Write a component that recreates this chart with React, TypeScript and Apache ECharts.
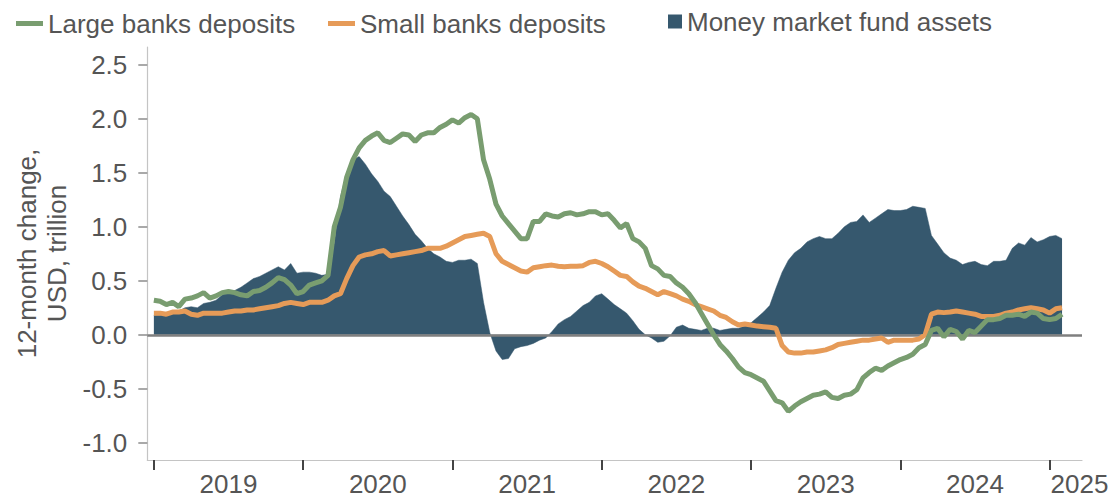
import React, { useEffect, useRef } from "react";
import * as echarts from "echarts";

// Semi-monthly observations starting January 2019 (x in decimal years)
const START_YEAR = 2019;
const STEP = 1 / 24;

const largeBanks = [
  0.32, 0.31, 0.28, 0.30, 0.26, 0.33, 0.34, 0.36, 0.39, 0.34,
  0.36, 0.39, 0.40, 0.39, 0.37, 0.36, 0.40, 0.41, 0.44, 0.48,
  0.53, 0.51, 0.46, 0.38, 0.40, 0.46, 0.48, 0.50, 0.55, 1.00,
  1.18, 1.46, 1.62, 1.73, 1.80, 1.84, 1.87, 1.80, 1.78, 1.82,
  1.86, 1.85, 1.79, 1.85, 1.87, 1.87, 1.92, 1.95, 1.99, 1.96,
  2.01, 2.04, 2.00, 1.62, 1.44, 1.21, 1.10, 1.03, 0.96, 0.89,
  0.89, 1.05, 1.05, 1.12, 1.10, 1.09, 1.12, 1.13, 1.11, 1.12,
  1.14, 1.14, 1.11, 1.12, 1.06, 0.99, 1.03, 0.89, 0.86, 0.80,
  0.64, 0.61, 0.55, 0.54, 0.48, 0.44, 0.38, 0.30, 0.20, 0.10,
  0.00, -0.09, -0.15, -0.22, -0.30, -0.35, -0.37, -0.40, -0.43, -0.52,
  -0.61, -0.63, -0.71, -0.66, -0.62, -0.59, -0.56, -0.55, -0.53, -0.58,
  -0.59, -0.56, -0.55, -0.51, -0.40, -0.35, -0.31, -0.33, -0.29, -0.26,
  -0.23, -0.21, -0.18, -0.12, -0.09, 0.04, 0.06, -0.02, 0.05, 0.03,
  -0.04, 0.04, 0.02, 0.08, 0.14, 0.14, 0.15, 0.18, 0.18, 0.19,
  0.17, 0.21, 0.20, 0.15, 0.14, 0.15, 0.19,
];

const smallBanks = [
  0.20, 0.20, 0.19, 0.21, 0.21, 0.22, 0.19, 0.18, 0.20, 0.20,
  0.20, 0.20, 0.21, 0.22, 0.22, 0.23, 0.23, 0.24, 0.25, 0.26,
  0.27, 0.29, 0.30, 0.29, 0.28, 0.30, 0.30, 0.30, 0.32, 0.36,
  0.38, 0.52, 0.64, 0.72, 0.74, 0.75, 0.77, 0.78, 0.73, 0.74,
  0.75, 0.76, 0.77, 0.78, 0.80, 0.80, 0.80, 0.82, 0.85, 0.88,
  0.91, 0.92, 0.93, 0.94, 0.91, 0.75, 0.68, 0.65, 0.62, 0.59,
  0.58, 0.62, 0.63, 0.64, 0.645, 0.635, 0.63, 0.635, 0.635, 0.64,
  0.67, 0.68, 0.66, 0.63, 0.59, 0.55, 0.54, 0.49, 0.45, 0.43,
  0.40, 0.37, 0.40, 0.38, 0.36, 0.33, 0.31, 0.28, 0.26, 0.24,
  0.22, 0.18, 0.16, 0.12, 0.09, 0.10, 0.09, 0.08, 0.075, 0.07,
  0.06, -0.10, -0.16, -0.17, -0.17, -0.16, -0.16, -0.15, -0.14, -0.12,
  -0.09, -0.08, -0.07, -0.06, -0.05, -0.05, -0.04, -0.03, -0.07, -0.05,
  -0.05, -0.05, -0.05, -0.04, 0.00, 0.19, 0.21, 0.205, 0.21, 0.22,
  0.21, 0.20, 0.19, 0.17, 0.17, 0.17, 0.18, 0.20, 0.21, 0.23,
  0.24, 0.25, 0.24, 0.23, 0.20, 0.24, 0.25,
];

const mmfAssets = [
  0.18, 0.18, 0.19, 0.20, 0.22, 0.25, 0.26, 0.25, 0.29, 0.30,
  0.32, 0.37, 0.40, 0.41, 0.44, 0.48, 0.52, 0.54, 0.57, 0.60,
  0.63, 0.60, 0.66, 0.57, 0.58, 0.58, 0.57, 0.55, 0.56, 0.85,
  1.28, 1.50, 1.62, 1.65, 1.58, 1.49, 1.42, 1.33, 1.28, 1.19,
  1.10, 1.02, 0.93, 0.87, 0.80, 0.75, 0.72, 0.68, 0.67, 0.69,
  0.69, 0.70, 0.66, 0.30, 0.02, -0.15, -0.23, -0.22, -0.13, -0.11,
  -0.10, -0.08, -0.05, -0.03, 0.03, 0.10, 0.14, 0.17, 0.22, 0.27,
  0.30, 0.36, 0.38, 0.33, 0.28, 0.24, 0.20, 0.13, 0.05, 0.00,
  -0.03, -0.07, -0.06, -0.01, 0.07, 0.09, 0.06, 0.05, 0.04, 0.06,
  0.06, 0.04, 0.05, 0.06, 0.06, 0.08, 0.11, 0.16, 0.21, 0.27,
  0.43, 0.58, 0.69, 0.76, 0.80, 0.86, 0.89, 0.91, 0.89, 0.89,
  0.94, 1.00, 1.04, 1.05, 1.11, 1.04, 1.08, 1.12, 1.16, 1.15,
  1.15, 1.16, 1.19, 1.18, 1.17, 0.92, 0.84, 0.76, 0.71, 0.69,
  0.65, 0.67, 0.68, 0.65, 0.64, 0.68, 0.68, 0.69, 0.80, 0.85,
  0.83, 0.90, 0.86, 0.88, 0.91, 0.92, 0.89,
];

const yTickValues = [-1.0, -0.5, 0.0, 0.5, 1.0, 1.5, 2.0, 2.5];
const yearTicks = [2019, 2020, 2021, 2022, 2023, 2024, 2025];
const yearLabels = ["2019", "2020", "2021", "2022", "2023", "2024", "2025"];
const yearLabelPositions = [2019.5, 2020.5, 2021.5, 2022.5, 2023.5, 2024.5, 2025.2];

const NAMES = {
  large: "Large banks deposits",
  small: "Small banks deposits",
  mmf: "Money market fund assets",
};

const GREEN = "#799D70";
const ORANGE = "#E69B58";
const NAVY = "#36586E";
const TEXT = "#555555";
const FONT = "'Liberation Sans', Arial, Helvetica, sans-serif";

const toPairs = (vals: number[]) => vals.map((v, i) => [START_YEAR + i * STEP, v]);

export default function App() {
  const ref = useRef<HTMLDivElement>(null);

  useEffect(() => {
    document.body.style.margin = "0";
    if (!ref.current) return;
    const chart = echarts.init(ref.current, null, { renderer: "svg" });

    const legendText = { color: TEXT, fontSize: 26, fontFamily: FONT };
    const option = {
      animation: false,
      backgroundColor: "#ffffff",
      textStyle: { fontFamily: FONT },
      legend: [
        {
          data: [{ name: NAMES.large, icon: "rect" }],
          left: 16,
          top: 10.5,
          padding: 0,
          itemWidth: 27,
          itemHeight: 5,
          selectedMode: false,
          textStyle: legendText,
        },
        {
          data: [{ name: NAMES.small, icon: "rect" }],
          left: 328,
          top: 10.5,
          padding: 0,
          itemWidth: 27,
          itemHeight: 5,
          selectedMode: false,
          textStyle: legendText,
        },
        {
          data: [{ name: NAMES.mmf, icon: "rect" }],
          left: 668,
          top: 8.5,
          padding: 0,
          itemWidth: 14,
          itemHeight: 14,
          selectedMode: false,
          textStyle: legendText,
        },
      ],
      grid: { left: 147.3, right: 32, top: 47, bottom: 42 },
      xAxis: {
        type: "value",
        min: 2018.956,
        max: 2025.217,
        splitLine: { show: false },
        axisLine: { show: true, onZero: false, lineStyle: { color: "#c4c4c4", width: 1.2 } },
        axisTick: {
          show: true,
          customValues: yearTicks,
          length: 10,
          lineStyle: { color: "#444444", width: 2 },
        },
        axisLabel: {
          customValues: yearLabelPositions,
          formatter: (v: number) => {
            const idx = yearLabelPositions.findIndex((p) => Math.abs(p - v) < 1e-6);
            return idx >= 0 ? yearLabels[idx] : "";
          },
          color: TEXT,
          fontSize: 26,
          fontFamily: FONT,
          margin: 11,
        },
      },
      yAxis: {
        type: "value",
        min: -1.16,
        max: 2.665,
        name: "12-month change,\nUSD, trillion",
        nameLocation: "middle",
        nameRotate: 90,
        nameGap: 72,
        nameTextStyle: { color: TEXT, fontSize: 26, fontFamily: FONT, lineHeight: 30 },
        splitLine: { show: false },
        axisLine: { show: true, lineStyle: { color: "#c4c4c4", width: 1.2 } },
        axisTick: {
          show: true,
          customValues: yTickValues,
          length: 9,
          lineStyle: { color: "#8c8c8c", width: 1.5 },
        },
        axisLabel: {
          customValues: yTickValues,
          formatter: (v: number) => v.toFixed(1),
          color: TEXT,
          fontSize: 26,
          fontFamily: FONT,
          margin: 20,
        },
      },
      series: [
        {
          name: NAMES.mmf,
          type: "line",
          data: toPairs(mmfAssets),
          showSymbol: false,
          symbol: "none",
          z: 1,
          color: NAVY,
          itemStyle: { color: NAVY },
          lineStyle: { color: NAVY, width: 0.5 },
          areaStyle: { color: NAVY, opacity: 1 },
          markLine: {
            silent: true,
            symbol: ["none", "none"],
            z: 2,
            label: { show: false },
            lineStyle: { color: "#7f7f7f", width: 2.5, type: "solid" },
            data: [{ yAxis: 0 }],
          },
        },
        {
          name: NAMES.small,
          type: "line",
          data: toPairs(smallBanks),
          showSymbol: false,
          symbol: "none",
          z: 3,
          color: ORANGE,
          itemStyle: { color: ORANGE },
          lineStyle: { color: ORANGE, width: 5 },
        },
        {
          name: NAMES.large,
          type: "line",
          data: toPairs(largeBanks),
          showSymbol: false,
          symbol: "none",
          z: 4,
          color: GREEN,
          itemStyle: { color: GREEN },
          lineStyle: { color: GREEN, width: 5 },
        },
      ],
    };

    chart.setOption(option as any);
    return () => chart.dispose();
  }, []);

  return <div ref={ref} style={{ width: 1114, height: 502 }} />;
}
